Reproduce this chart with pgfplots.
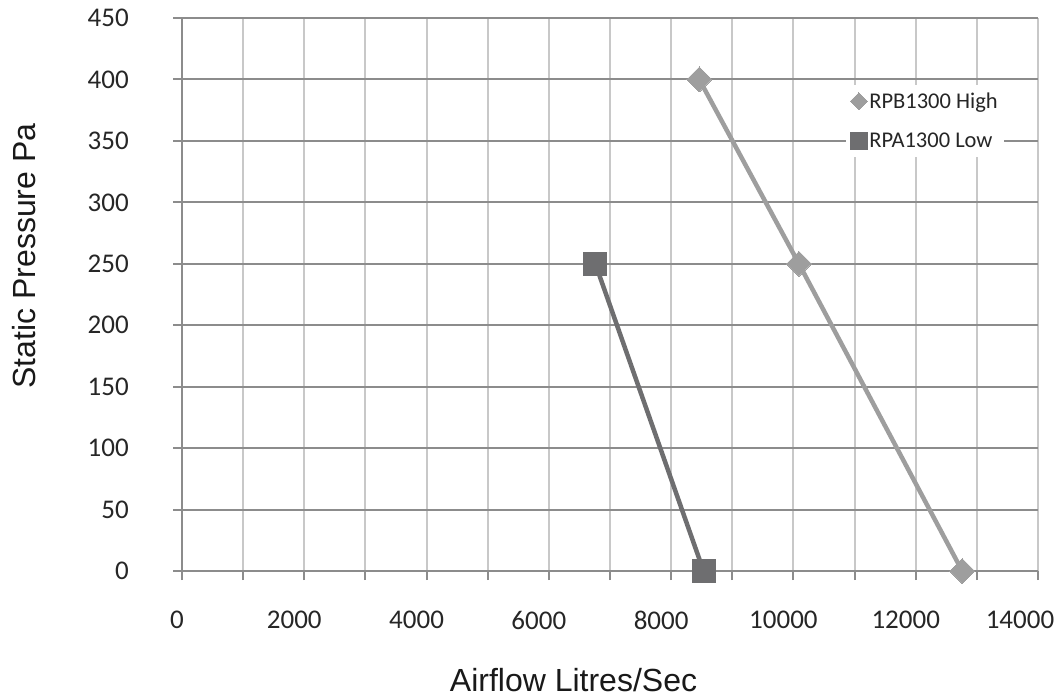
\documentclass[border=0pt]{standalone}
\usepackage{pgfplots}
\pgfplotsset{compat=1.18}
\usepackage{fontspec}
\setmainfont{Carlito}
\newfontfamily\arialf{Liberation Sans}
\definecolor{hicol}{HTML}{9E9E9E}
\definecolor{locol}{HTML}{6E6E70}
\definecolor{axcol}{HTML}{8C8C8C}
\definecolor{gridv}{HTML}{C8C8C8}
\begin{document}
\begin{tikzpicture}[x=1pt,y=1pt]
\useasboundingbox (0,0) rectangle (1062,697);
\begin{axis}[
  at={(182pt,126pt)}, anchor=south west,
  scale only axis, width=856pt, height=553pt,
  xmin=0, xmax=14000, ymin=0, ymax=450,
  axis x line*=bottom, axis y line*=left,
  axis line style={draw=axcol, line width=2pt},
  scaled x ticks=false, scaled y ticks=false,
  xtick={0,1000,...,14000},
  xticklabels={\makebox[0pt]{\hspace*{10pt}0},,2000,,4000,,6000,,8000,,10000,,12000,,\makebox[0pt]{\hspace*{-16pt}14000}},
  ytick={0,50,...,450},
  yticklabels={0,50,100,150,200,250,300,350,400,450},
  tick align=outside,
  major tick length=9pt,
  tick style={draw=axcol, line width=2pt},
  grid=major,
  x grid style={draw=gridv, line width=2pt},
  y grid style={draw=axcol, line width=2pt},
  xticklabel style={font=\fontsize{27}{32}\selectfont, anchor=north, inner sep=0pt, yshift=-31pt, xshift=-10pt, text=black!85},
  yticklabel style={font=\fontsize{27}{32}\selectfont, anchor=east, inner sep=0pt, xshift=-44pt, text=black!85},
  clip=false,
  legend style={at={(0.868,0.814)}, anchor=center, fill=white, draw=none,
    font=\fontsize{22.5}{27}\selectfont, row sep=19pt, inner xsep=4pt, inner ysep=6pt,
    legend cell align=left, text=black!85},
  legend image code/.code={\draw[#1] plot coordinates {(5pt,0pt)};},
]
\addplot[forget plot, draw=hicol, line width=4.5pt, mark=square*, mark size=8.8pt,
  mark options={rotate=45, fill=hicol, draw=hicol, line width=0pt}]
  coordinates {(8460,400) (10090,250) (12760,0)};
\addplot[forget plot, draw=locol, line width=4.5pt, mark=square*, mark size=11.5pt,
  mark options={fill=locol, draw=locol, line width=0pt}]
  coordinates {(6760,250) (8530,0)};
\addlegendimage{only marks, mark=square*, mark size=6pt, mark options={rotate=45, fill=hicol, draw=hicol, line width=0pt}}
\addlegendentry{RPB1300 High}
\addlegendimage{only marks, mark=square*, mark size=8.5pt, mark options={fill=locol, draw=locol, line width=0pt}}
\addlegendentry{RPA1300 Low}
\end{axis}
\node[font=\arialf\fontsize{32}{38}\selectfont, anchor=base, text=black!90, inner sep=0pt] at (573.5,6) {Airflow Litres/Sec};
\node[font=\arialf\fontsize{32}{38}\selectfont, anchor=base, rotate=90, text=black!90] at (35,441) {Static Pressure Pa};
\end{tikzpicture}
\end{document}
